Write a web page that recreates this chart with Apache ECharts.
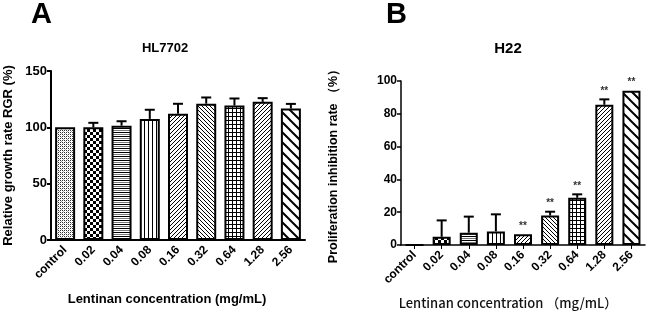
<!DOCTYPE html>
<html><head><meta charset="utf-8">
<script src="https://cdn.jsdelivr.net/npm/echarts@6/dist/echarts.min.js"></script>
<style>html,body{margin:0;padding:0;background:#fff}#c{width:650px;height:313px}</style>
</head><body><div id="c"></div>
<script>
const categories = ['control','0.02','0.04','0.08','0.16','0.32','0.64','1.28','2.56'];
const valuesA = [100, 100, 101.5, 107.5, 112, 121, 119.3, 122.6, 116.7];
const errTopA = [100, 104, 105.4, 115.6, 120.9, 126.5, 125.6, 125.9, 120.8];
const valuesB = [0, 5, 7.5, 8.3, 6.5, 18, 28.8, 85.5, 94];
const errTopB = [0, 15, 17.3, 18.7, 6.5, 20.3, 30.9, 88.8, 94.3];
const sigB = ['', '', '', '', '**', '**', '**', '**', '**'];
const patterns = ['dots','checker','hlines','vlines','fslash','bslash','grid','fslash2','wbslash'];

function makePattern(type){
  const c = document.createElement('canvas');
  const s = (type==='wbslash') ? 10 : (type==='checker' ? 6 : 4);
  c.width = s; c.height = s;
  const g = c.getContext('2d');
  g.fillStyle = '#fff'; g.fillRect(0,0,s,s);
  g.fillStyle = '#000'; g.strokeStyle = '#000';
  if(type==='dots'){ g.fillStyle='#333'; g.fillRect(0,0,1,1); g.fillRect(2,2,1,1); g.fillRect(2,0,1,1); g.fillRect(0,2,1,1); g.fillStyle='#aaa'; g.fillRect(1,1,1,1); g.fillRect(3,3,1,1);}
  else if(type==='checker'){ g.fillRect(0,0,3,3); g.fillRect(3,3,3,3); }
  else if(type==='hlines'){ g.fillRect(0,0,s,1); g.fillStyle='#777'; g.fillRect(0,2,s,1); }
  else if(type==='vlines'){ g.fillRect(0,0,1,s); }
  else if(type==='fslash' || type==='fslash2'){ g.lineWidth=1; g.beginPath(); g.moveTo(0,s); g.lineTo(s,0); g.moveTo(-1,1); g.lineTo(1,-1); g.moveTo(s-1,s+1); g.lineTo(s+1,s-1); g.stroke(); }
  else if(type==='bslash'){ g.lineWidth=1; g.beginPath(); g.moveTo(0,0); g.lineTo(s,s); g.moveTo(s-1,-1); g.lineTo(s+1,1); g.moveTo(-1,s-1); g.lineTo(1,s+1); g.stroke(); }
  else if(type==='grid'){ g.fillRect(0,0,s,1); g.fillRect(0,0,1,s); }
  else if(type==='wbslash'){ g.lineWidth=2; g.beginPath(); g.moveTo(0,0); g.lineTo(s,s); g.moveTo(s-2,-2); g.lineTo(s+2,2); g.moveTo(-2,s-2); g.lineTo(2,s+2); g.stroke(); }
  return {image: c, repeat: 'repeat'};
}
const fills = patterns.map(makePattern);

function barData(vals){
  return vals.map((v,i)=>({value:v, itemStyle:{color: fills[i]}}));
}
function errSeries(xi, yi, vals, tops, sig){
  return {
    type:'custom', xAxisIndex:xi, yAxisIndex:yi, z:5,
    data: vals.map((v,i)=>[i, v, tops[i]]),
    renderItem: function(params, api){
      const i = api.value(0);
      const p0 = api.coord([i, api.value(1)]);
      const p1 = api.coord([i, api.value(2)]);
      const ch = [];
      if (p0[1]-p1[1] > 1){
        ch.push({type:'line', shape:{x1:p0[0], y1:p0[1], x2:p1[0], y2:p1[1]}, style:{stroke:'#000', lineWidth:2}});
        ch.push({type:'line', shape:{x1:p0[0]-5, y1:p1[1], x2:p0[0]+5, y2:p1[1]}, style:{stroke:'#000', lineWidth:2}});
      }
      if (sig && sig[i]){
        ch.push({type:'text', x:p0[0], y:p1[1]-3, style:{text:sig[i], fill:'#333', font:'bold 10px "Liberation Sans"', align:'center', verticalAlign:'bottom'}});
      }
      return {type:'group', children: ch};
    }
  };
}

const chart = echarts.init(document.getElementById('c'), null, {renderer:'canvas'});
const axisTxt = {color:'#000', fontFamily:'Liberation Sans', fontWeight:'bold', fontSize:12};
chart.setOption({
  animation:false,
  backgroundColor:'#fff',
  graphic:[
    {type:'text', left:31, top:0, style:{text:'A', font:'bold 29px "Liberation Sans"', fill:'#000'}},
    {type:'text', left:386, top:0, style:{text:'B', font:'bold 29px "Liberation Sans"', fill:'#000'}},
    {type:'text', x:165, y:48, style:{text:'HL7702', font:'bold 13px "Liberation Sans"', fill:'#000', align:'center', verticalAlign:'middle'}},
    {type:'text', x:508, y:49, style:{text:'H22', font:'bold 15px "Liberation Sans"', fill:'#000', align:'center', verticalAlign:'middle'}},
    {type:'text', x:167, y:299, style:{text:'Lentinan concentration (mg/mL)', font:'bold 13px "Liberation Sans"', fill:'#000', align:'center', verticalAlign:'middle'}},
    {type:'text', x:508, y:303, style:{text:'Lentinan concentration （mg/mL）', font:'500 13px "Noto Sans CJK SC"', fill:'#111', align:'center', verticalAlign:'middle'}}
  ],
  grid:[
    {left:51, top:71, width:254, height:169},
    {left:401, top:81, width:244, height:164}
  ],
  xAxis:[
    {type:'category', gridIndex:0, data:categories, axisLine:{lineStyle:{color:'#000', width:2}}, axisTick:{show:false},
     axisLabel:Object.assign({rotate:45, margin:8, interval:0}, axisTxt)},
    {type:'category', gridIndex:1, data:categories, axisLine:{lineStyle:{color:'#000', width:1.5}}, axisTick:{show:true, alignWithLabel:true, length:4, lineStyle:{color:'#000'}},
     axisLabel:Object.assign({rotate:45, margin:8, interval:0}, axisTxt)}
  ],
  yAxis:[
    {type:'value', gridIndex:0, min:0, max:150, interval:50, splitLine:{show:false},
     axisLine:{show:true, lineStyle:{color:'#000', width:2}}, axisTick:{show:true, length:4, lineStyle:{color:'#000', width:2}},
     axisLabel:Object.assign({margin:4}, axisTxt, {fontSize:13}),
     name:'Relative growth rate RGR (%)', nameLocation:'middle', nameRotate:90, nameGap:36,
     nameTextStyle:{color:'#000', fontFamily:'Liberation Sans', fontWeight:'bold', fontSize:13}},
    {type:'value', gridIndex:1, min:0, max:100, interval:20, splitLine:{show:false},
     axisLine:{show:true, lineStyle:{color:'#000', width:1.5}}, axisTick:{show:true, length:4, lineStyle:{color:'#000', width:1.5}},
     axisLabel:Object.assign({margin:4}, axisTxt),
     name:'Proliferation inhibition rate （%）', nameLocation:'middle', nameRotate:90, nameGap:61,
     nameTextStyle:{color:'#000', fontFamily:'Liberation Sans', fontWeight:'bold', fontSize:12.5}}
  ],
  series:[
    {type:'bar', xAxisIndex:0, yAxisIndex:0, barWidth:20, data:barData(valuesA), itemStyle:{borderColor:'#000', borderWidth:2}},
    errSeries(0,0,valuesA,errTopA,null),
    {type:'bar', xAxisIndex:1, yAxisIndex:1, barWidth:18, data:barData(valuesB), itemStyle:{borderColor:'#000', borderWidth:2}},
    errSeries(1,1,valuesB,errTopB,sigB)
  ]
});
</script></body></html>
